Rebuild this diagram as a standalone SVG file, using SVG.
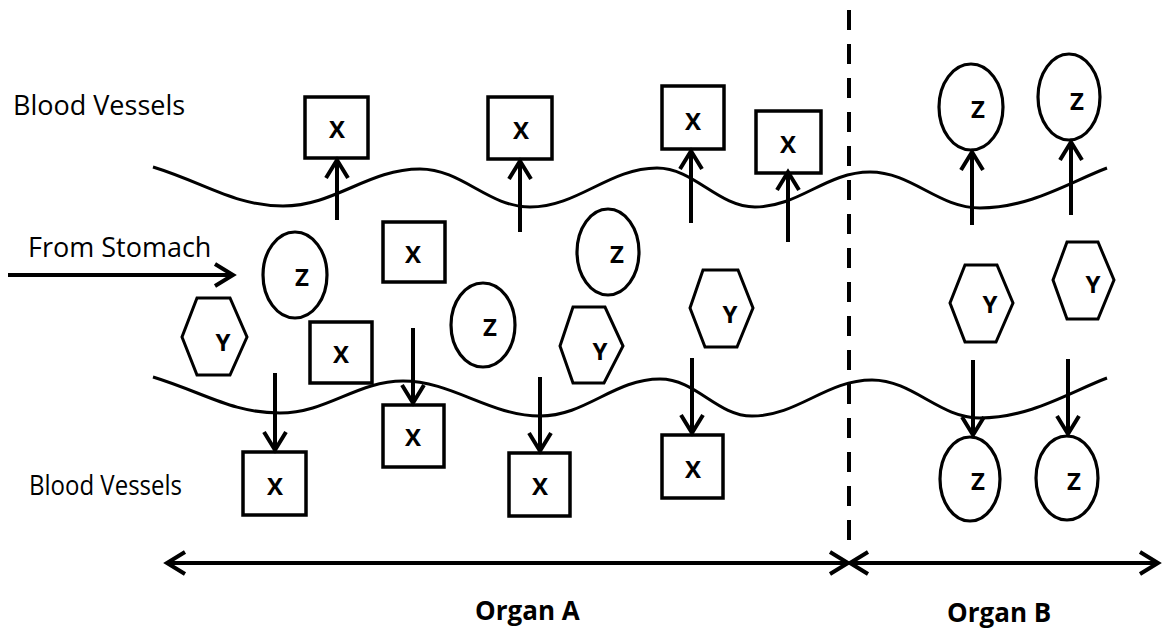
<svg xmlns="http://www.w3.org/2000/svg" width="1162" height="630" viewBox="0 0 1162 630">
<style>
.lbl{font-family:"Open Sans","Liberation Sans",sans-serif;font-size:27px;fill:#000}
.org{font-family:"Open Sans","Liberation Sans",sans-serif;font-size:26px;font-weight:bold;fill:#000}
.nt{font-family:"Open Sans","Liberation Sans",sans-serif;font-size:24px;font-weight:bold;fill:#000;text-anchor:middle}
.box{fill:#fff;stroke:#000;stroke-width:3.5}
.ell{fill:#fff;stroke:#000;stroke-width:3.2}
.hex{fill:#fff;stroke:#000;stroke-width:3}
.wave{fill:none;stroke:#000;stroke-width:3}
.arr{fill:none;stroke:#000;stroke-width:4;marker-end:url(#head)}
.dbl{fill:none;stroke:#000;stroke-width:4;marker-start:url(#head);marker-end:url(#head)}
.dash{fill:none;stroke:#000;stroke-width:4;stroke-dasharray:20 14}
</style>
<defs>
<marker id="head" viewBox="0 0 22 26" refX="20" refY="13" markerWidth="22" markerHeight="26" markerUnits="userSpaceOnUse" orient="auto-start-reverse" overflow="visible">
<path d="M2,2 L20,13 L2,24" fill="none" stroke="#000" stroke-width="4"/>
</marker>
</defs>
<rect width="1162" height="630" fill="#fff"/>

<g id="labels">
<text class="lbl" x="13" y="115">Blood Vessels</text>
<text class="lbl" x="28" y="257">From Stomach</text>
<text class="lbl" x="29" y="495" textLength="153" lengthAdjust="spacingAndGlyphs">Blood Vessels</text>
<text class="org" x="475" y="620">Organ A</text>
<text class="org" x="947" y="622">Organ B</text>
</g>

<g id="vessels">
<path class="wave" d="M153,167 C205,183 235,206 283,206 C335,206 368,169 420,169 C462,169 488,207 530,207 C578,207 609,168 657,168 C694,168 718,207 755,207 C799,207 826,172 870,172 C912,172 938,208 980,208 C1030,208 1070,182 1107,168"/>
<path class="wave" d="M153,377 C205,393 232,413 280,413 C327,413 357,381 403,381 C452,381 490,416 540,416 C586,416 614,379 660,379 C696,379 717,416 752,416 C798,416 826,380 872,380 C913,380 939,418 980,418 C1030,418 1070,392 1107,378"/>
</g>

<g id="divider">
<line class="dash" x1="849" y1="10" x2="849" y2="552"/>
</g>

<g id="x1"><rect class="box" x="305" y="97" width="63" height="61"/><text class="nt" x="337" y="138">X</text></g>
<g id="x2"><rect class="box" x="488" y="97" width="64" height="62"/><text class="nt" x="521" y="139">X</text></g>
<g id="x3"><rect class="box" x="662" y="86" width="62" height="63"/><text class="nt" x="693" y="130">X</text></g>
<g id="x4"><rect class="box" x="756" y="111" width="65" height="62"/><text class="nt" x="788" y="153">X</text></g>
<g id="x5"><rect class="box" x="383" y="222" width="62" height="60"/><text class="nt" x="413" y="263">X</text></g>
<g id="x6"><rect class="box" x="310" y="322" width="62" height="61"/><text class="nt" x="341" y="363">X</text></g>
<g id="x7"><rect class="box" x="243" y="452" width="63" height="63"/><text class="nt" x="275" y="495">X</text></g>
<g id="x8"><rect class="box" x="383" y="405" width="61" height="62"/><text class="nt" x="413" y="446">X</text></g>
<g id="x9"><rect class="box" x="509" y="453" width="61" height="63"/><text class="nt" x="540" y="495">X</text></g>
<g id="x10"><rect class="box" x="662" y="435" width="61" height="63"/><text class="nt" x="693" y="478">X</text></g>

<g id="z1"><ellipse class="ell" cx="295" cy="275" rx="32" ry="43"/><text class="nt" x="302" y="286">Z</text></g>
<g id="z2"><ellipse class="ell" cx="483" cy="325" rx="32" ry="42"/><text class="nt" x="490" y="336">Z</text></g>
<g id="z3"><ellipse class="ell" cx="608" cy="252" rx="31" ry="43"/><text class="nt" x="617" y="263">Z</text></g>
<g id="z4"><ellipse class="ell" cx="971" cy="107" rx="32" ry="43"/><text class="nt" x="978" y="118">Z</text></g>
<g id="z5"><ellipse class="ell" cx="1069" cy="97" rx="31" ry="43"/><text class="nt" x="1077" y="110">Z</text></g>
<g id="z6"><ellipse class="ell" cx="970" cy="479" rx="30" ry="42"/><text class="nt" x="978" y="490">Z</text></g>
<g id="z7"><ellipse class="ell" cx="1067" cy="478" rx="31" ry="42"/><text class="nt" x="1074" y="490">Z</text></g>

<g id="y1"><polygon class="hex" points="197,298 230,298 247,337 230,375 197,375 182,337"/><text class="nt" x="223" y="351">Y</text></g>
<g id="y2"><polygon class="hex" points="573,307 605,307 623,346 604,383 573,383 560,346"/><text class="nt" x="600" y="360">Y</text></g>
<g id="y3"><polygon class="hex" points="703,270 738,270 753,308 737,347 705,347 690,308"/><text class="nt" x="730" y="323">Y</text></g>
<g id="y4"><polygon class="hex" points="965,265 997,265 1013,303 996,342 965,342 950,303"/><text class="nt" x="990" y="313">Y</text></g>
<g id="y5"><polygon class="hex" points="1067,242 1098,242 1114,280 1098,319 1067,319 1053,280"/><text class="nt" x="1093" y="293">Y</text></g>

<g id="connectors">
<line class="arr" x1="8" y1="275" x2="233" y2="275"/>
<line class="arr" x1="337" y1="220" x2="337" y2="160"/>
<line class="arr" x1="520" y1="232" x2="520" y2="161"/>
<line class="arr" x1="691" y1="223" x2="691" y2="151"/>
<line class="arr" x1="788" y1="242" x2="788" y2="172"/>
<line class="arr" x1="972" y1="225" x2="972" y2="152"/>
<line class="arr" x1="1071" y1="215" x2="1071" y2="142"/>
<line class="arr" x1="275" y1="373" x2="275" y2="450"/>
<line class="arr" x1="413" y1="328" x2="413" y2="403"/>
<line class="arr" x1="540" y1="377" x2="540" y2="451"/>
<line class="arr" x1="692" y1="358" x2="692" y2="433"/>
<line class="arr" x1="973" y1="360" x2="973" y2="435"/>
<line class="arr" x1="1068" y1="359" x2="1068" y2="434"/>
<line class="dbl" x1="167" y1="563" x2="848" y2="563"/>
<line class="dbl" x1="850" y1="563" x2="1158" y2="563"/>
</g>
</svg>
